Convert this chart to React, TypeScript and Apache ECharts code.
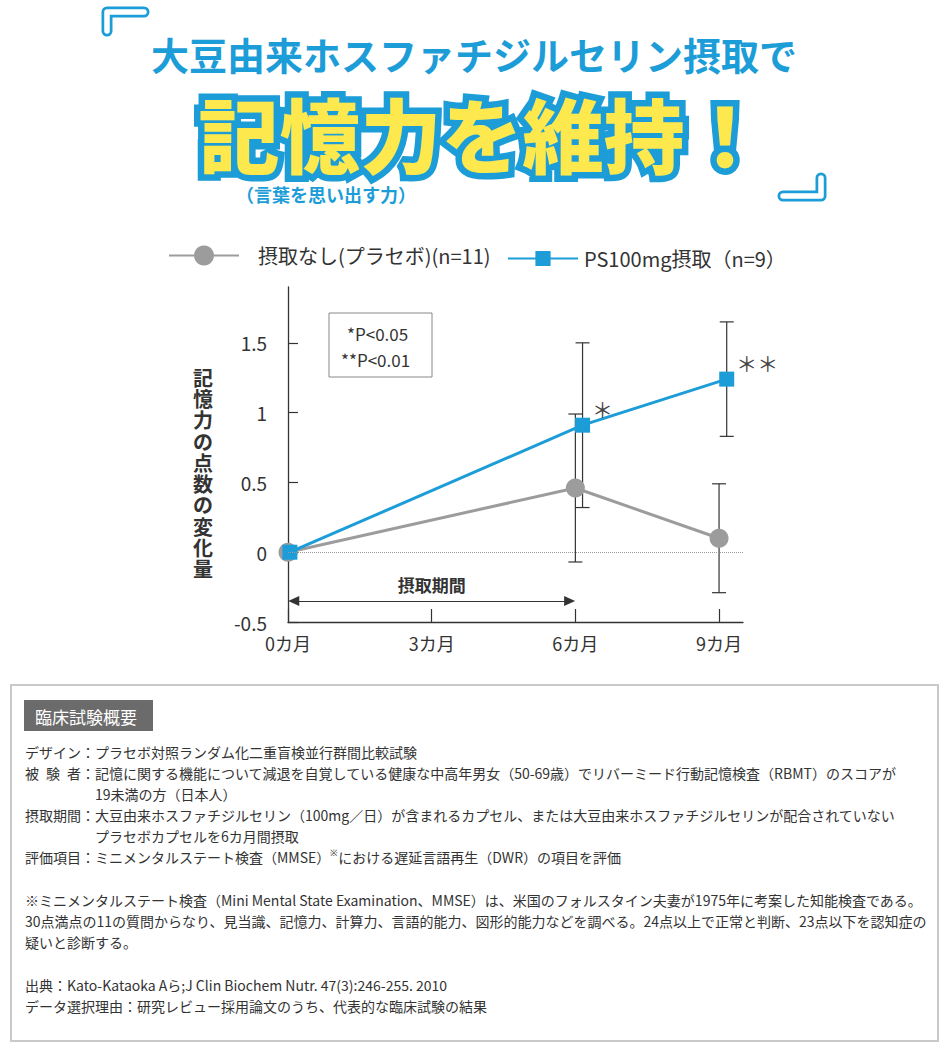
import { useEffect, useRef } from 'react'
import * as echarts from 'echarts'

// --- data ---
const months = [0, 6, 9]
const psMonths = [0.04, 6.15, 9.16] // PS marks sit a little right of the placebo marks
const placeboMean = [0, 0.46, 0.1]
const placeboSd = [0, 0.53, 0.39]
const psMean = [0, 0.91, 1.24]
const psSd = [0, 0.59, 0.41]
const psSig = ['', '＊', '＊＊']
const monthTicks = [0, 3, 6, 9]
const monthLabels = ['0カ月', '3カ月', '6カ月', '9カ月']
const scoreTicks = [-0.5, 0, 0.5, 1, 1.5]
const intakePeriod = [0, 6]
const intakeLevel = -0.35

const placeboName = '摂取なし(プラセボ)(n=11)'
const psName = 'PS100mg摂取（n=9）'
const yName = '記憶力の点数の変化量'
const pNotes = ['*P<0.05', '**P<0.01']

const titleTop = '大豆由来ホスファチジルセリン摂取で'
const titleMain = '記憶力を維持！'
const titleSub = '（言葉を思い出す力）'

const summaryHead = '臨床試験概要'
const summaryLabels = ['デザイン：', '被\u2002験\u2002者：', '', '摂取期間：', '', '評価項目：']
const summaryBody = [
  'プラセボ対照ランダム化二重盲検並行群間比較試験',
  '記憶に関する機能について減退を自覚している健康な中高年男女（50-69歳）でリバーミード行動記憶検査（RBMT）のスコアが',
  '19未満の方（日本人）',
  '大豆由来ホスファチジルセリン（100mg／日）が含まれるカプセル、または大豆由来ホスファチジルセリンが配合されていない',
  'プラセボカプセルを6カ月間摂取',
  'ミニメンタルステート検査（MMSE）{sup|※}における遅延言語再生（DWR）の項目を評価',
]
const footnote = [
  '※ミニメンタルステート検査（Mini Mental State Examination、MMSE）は、米国のフォルスタイン夫妻が1975年に考案した知能検査である。',
  '30点満点の11の質問からなり、見当識、記憶力、計算力、言語的能力、図形的能力などを調べる。24点以上で正常と判断、23点以下を認知症の',
  '疑いと診断する。',
]
const sources = [
  '出典：Kato-Kataoka Aら;J Clin Biochem Nutr. 47(3):246-255. 2010',
  'データ選択理由：研究レビュー採用論文のうち、代表的な臨床試験の結果',
]

const FONT = '"Noto Sans CJK JP", "Noto Sans", sans-serif'
const BLUE = '#1d9dd8'
const GRAY = '#9c9c9c'
const INK = '#333333'

export default function App() {
  const ref = useRef<HTMLDivElement>(null)

  useEffect(() => {
    if (!ref.current) return
    document.body.style.margin = '0'
    const chart = echarts.init(ref.current, null, { renderer: 'svg' })

    const errData = [
      ...months.map((m, i) => [m, placeboMean[i] - placeboSd[i], placeboMean[i] + placeboSd[i], placeboSd[i]]),
      ...psMonths.map((m, i) => [m, psMean[i] - psSd[i], psMean[i] + psSd[i], psSd[i]]),
    ].filter((d) => d[3] > 0)

    const bodyText = (text: string, x: number, y: number, extra: any = {}) => ({
      type: 'text',
      style: { text, x, y, fill: INK, font: `14px ${FONT}`, verticalAlign: 'middle', ...extra },
    })

    const bracket = (points: number[][]) => [
      { type: 'polyline', shape: { points }, style: { stroke: BLUE, lineWidth: 11, lineCap: 'round', lineJoin: 'round', fill: 'none' } },
      { type: 'polyline', shape: { points }, style: { stroke: '#fff', lineWidth: 5.5, lineCap: 'round', lineJoin: 'round', fill: 'none' } },
    ]

    const graphic: any[] = [
      // title brackets
      ...bracket([[107, 31], [107, 12], [144, 12]]),
      ...bracket([[783, 196], [821, 196], [821, 178]]),
      // titles
      { type: 'text', style: { text: titleTop, x: 474, y: 53, align: 'center', verticalAlign: 'middle', fill: BLUE, font: `bold 38px ${FONT}` } },
      { type: 'text', style: { text: titleMain, x: 482, y: 131, align: 'center', verticalAlign: 'middle', fill: BLUE, stroke: BLUE, lineWidth: 13, lineJoin: 'round', font: `900 81px ${FONT}` } },
      { type: 'text', style: { text: titleMain, x: 482, y: 131, align: 'center', verticalAlign: 'middle', fill: '#fde84d', font: `900 81px ${FONT}` } },
      { type: 'text', style: { text: titleSub, x: 236, y: 194, verticalAlign: 'middle', fill: BLUE, font: `bold 18px ${FONT}` } },
      // y-axis title, stacked vertically
      { type: 'text', style: { text: yName.split('').join('\n'), x: 203, y: 473, align: 'center', verticalAlign: 'middle', lineHeight: 21.3, fill: INK, font: `bold 20px ${FONT}` } },
      // significance key
      { type: 'rect', shape: { x: 329, y: 313, width: 103, height: 64 }, style: { fill: '#fff', stroke: '#888', lineWidth: 1 } },
      { type: 'text', style: { text: pNotes[0], x: 347, y: 333, verticalAlign: 'middle', fill: INK, font: `17px ${FONT}` } },
      { type: 'text', style: { text: pNotes[1], x: 341, y: 359, verticalAlign: 'middle', fill: INK, font: `17px ${FONT}` } },
      // summary box
      { type: 'rect', shape: { x: 11, y: 685, width: 927, height: 356 }, style: { fill: 'none', stroke: '#c9c9c9', lineWidth: 2 } },
      { type: 'rect', shape: { x: 24, y: 700, width: 129, height: 31 }, style: { fill: '#6b6b6b' } },
      { type: 'text', style: { text: summaryHead, x: 35, y: 716, verticalAlign: 'middle', fill: '#fff', font: `17px ${FONT}` } },
    ]

    summaryBody.forEach((t, i) => {
      const y = 752 + i * 21
      if (summaryLabels[i]) graphic.push(bodyText(summaryLabels[i], 25, y))
      graphic.push(bodyText(t, 95, y, { rich: { sup: { fontSize: 9, padding: [0, 0, 9, 0] } } }))
    })
    footnote.forEach((t, i) => graphic.push(bodyText(t, 25, 900 + i * 21)))
    sources.forEach((t, i) => graphic.push(bodyText(t, 25, 985 + i * 21)))

    chart.setOption({
      animation: false,
      textStyle: { fontFamily: FONT },
      legend: [
        {
          data: [placeboName],
          left: 168,
          top: 245.5,
          padding: 0,
          itemWidth: 70,
          itemHeight: 25,
          selectedMode: false,
          textStyle: { fontSize: 20, color: INK, padding: [0, 0, 0, 14] },
        },
        {
          data: [psName],
          left: 507,
          top: 248.5,
          padding: 0,
          itemWidth: 70,
          itemHeight: 19,
          selectedMode: false,
          textStyle: { fontSize: 20, color: INK, padding: [0, 0, 0, 1] },
        },
      ],
      grid: { left: 288, top: 287, width: 455, height: 335, containLabel: false },
      xAxis: {
        type: 'value',
        min: 0,
        max: 9.5,
        interval: 3,
        splitLine: { show: false },
        axisLine: { onZero: false, lineStyle: { color: INK, width: 1.3 } },
        axisTick: { inside: true, length: 13, customValues: monthTicks, lineStyle: { color: INK, width: 1.2 } },
        axisLabel: {
          customValues: monthTicks,
          formatter: (v: number) => monthLabels[monthTicks.indexOf(v)] ?? '',
          color: INK,
          fontSize: 18,
          margin: 12,
        },
      },
      yAxis: {
        type: 'value',
        min: -0.5,
        max: 1.9,
        interval: 0.5,
        splitLine: { show: false },
        axisLine: { show: true, onZero: false, lineStyle: { color: INK, width: 1.3 } },
        axisTick: { show: true, inside: true, length: 10, customValues: scoreTicks, lineStyle: { color: INK, width: 1.2 } },
        axisLabel: { customValues: scoreTicks, color: INK, fontSize: 19, margin: 21 },
      },
      graphic,
      series: [
        {
          type: 'custom',
          name: 'error',
          z: 2,
          encode: { x: 0, y: [1, 2] },
          data: errData,
          renderItem: (_p: any, api: any) => {
            const x = api.value(0)
            const top = api.coord([x, api.value(2)])
            const bot = api.coord([x, api.value(1)])
            const w = 7
            const style = { stroke: INK, lineWidth: 1.2 }
            return {
              type: 'group',
              children: [
                { type: 'line', shape: { x1: top[0], y1: top[1], x2: bot[0], y2: bot[1] }, style },
                { type: 'line', shape: { x1: top[0] - w, y1: top[1], x2: top[0] + w, y2: top[1] }, style },
                { type: 'line', shape: { x1: bot[0] - w, y1: bot[1], x2: bot[0] + w, y2: bot[1] }, style },
              ],
            }
          },
        },
        {
          type: 'line',
          name: placeboName,
          z: 3,
          data: months.map((m, i) => [m, placeboMean[i]]),
          symbol: 'circle',
          symbolSize: 19,
          itemStyle: { color: GRAY },
          lineStyle: { color: GRAY, width: 3 },
          markLine: {
            silent: true,
            symbol: 'none',
            label: { show: false },
            lineStyle: { color: '#999', type: 'dotted', width: 1 },
            data: [{ yAxis: 0 }],
          },
        },
        {
          type: 'line',
          name: psName,
          z: 4,
          data: psMonths.map((m, i) => ({
            value: [m, psMean[i]],
            label: {
              show: psSig[i] !== '',
              formatter: psSig[i],
              position: 'right',
              distance: 2,
              offset: [0, -16],
              fontSize: 21,
              color: '#444',
            },
          })),
          symbol: 'rect',
          symbolSize: 15,
          itemStyle: { color: BLUE },
          lineStyle: { color: BLUE, width: 3 },
          markLine: {
            silent: true,
            symbol: ['triangle', 'triangle'],
            symbolSize: [10, 11],
            lineStyle: { color: INK, type: 'solid', width: 1.2 },
            label: {
              show: true,
              position: 'middle',
              formatter: '摂取期間',
              color: INK,
              fontSize: 17,
              fontWeight: 'bold',
              distance: 8,
            },
            data: [[{ coord: [intakePeriod[0] + 0.12, intakeLevel] }, { coord: [intakePeriod[1] - 0.12, intakeLevel] }]],
          },
        },
      ],
    })

    return () => {
      chart.dispose()
    }
  }, [])

  return <div ref={ref} style={{ width: 950, height: 1050 }} />
}
